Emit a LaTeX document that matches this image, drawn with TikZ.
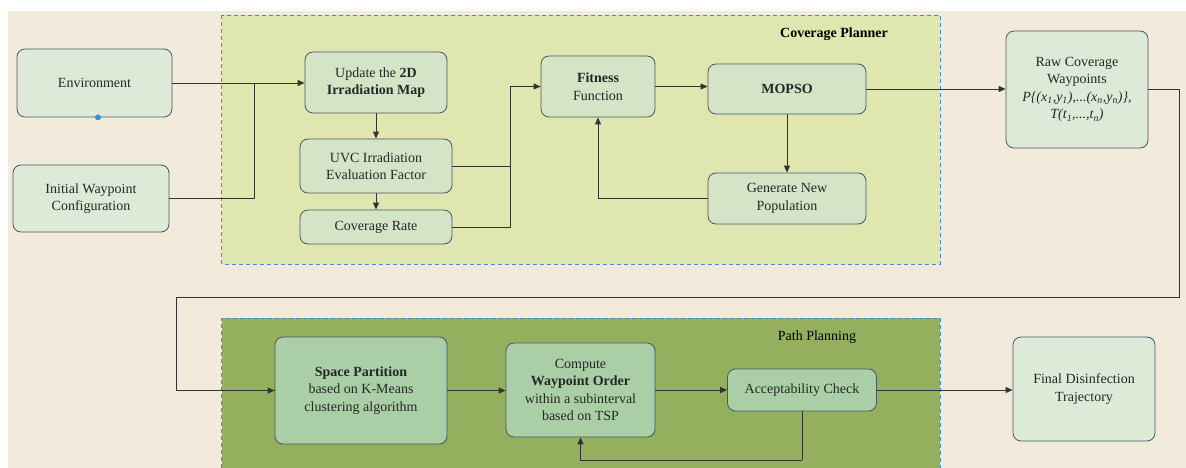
\documentclass[tikz,border=0pt]{standalone}
\usepackage{fontspec}
\setmainfont{Liberation Serif}
\newfontfamily\tnr{Liberation Serif}
\usetikzlibrary{arrows.meta}
\definecolor{bgbeige}{HTML}{F2EBDC}
\definecolor{covfill}{HTML}{E0E6AF}
\definecolor{pathfill}{HTML}{94B05E}
\definecolor{nodeA}{HTML}{DDEAD8}
\definecolor{nodeB}{HTML}{D3E5C6}
\definecolor{nodeC}{HTML}{AACFA6}
\definecolor{bordc}{HTML}{4A5566}
\definecolor{dashc}{HTML}{3D8FD1}
\definecolor{linec}{HTML}{333333}
\tikzset{
  box/.style={draw=bordc, line width=0.8pt, rounded corners=8pt, align=center,
    inner sep=2pt, font=\tnr\fontsize{14}{17.5}\selectfont, text=black!85},
  outbox/.style={box, fill=nodeA},
  covbox/.style={box, fill=nodeB},
  pathbox/.style={box, fill=nodeC},
  conn/.style={draw=linec, line width=0.9pt},
  arr/.style={conn, -{Triangle[length=7pt,width=6pt]}},
  group/.style={draw=dashc, dashed, dash pattern=on 4pt off 3pt, line width=0.8pt}
}
\begin{document}
\begin{tikzpicture}[x=1pt,y=-1pt]
\useasboundingbox (0,0) rectangle (1186,468);
\fill[white] (0,0) rectangle (1186,468);
\fill[bgbeige] (8,11) rectangle (1186,468);
% groups
\path[group, fill=covfill] (221.6,15) rectangle (940,264);
\fill[pathfill] (221.6,318) rectangle (940,468);
\draw[group] (221.6,468) -- (221.6,318) -- (940,318) -- (940,468);
\node[font=\tnr\fontsize{14}{16}\selectfont\bfseries] (covlabel) at (834,34) {Coverage Planner};
\node[font=\tnr\fontsize{14}{16}\selectfont] (pathlabel) at (817,337) {Path Planning};
% nodes
\node[outbox, minimum width=155pt, minimum height=68pt] (env) at (94.5,83) {Environment};
\node[outbox, minimum width=156pt, minimum height=67pt] (init) at (91,198.5) {Initial Waypoint\\Configuration};
\node[covbox, minimum width=142pt, minimum height=61pt] (upd) at (376,82.5) {Update the \textbf{2D}\\\textbf{Irradiation Map}};
\node[covbox, minimum width=152pt, minimum height=54pt] (uvc) at (376,166) {UVC Irradiation\\Evaluation Factor};
\node[covbox, minimum width=152pt, minimum height=34pt] (cov) at (376,227) {Coverage Rate};
\node[covbox, minimum width=114pt, minimum height=61pt] (fit) at (598,86.5) {\textbf{Fitness}\\Function};
\node[covbox, minimum width=158pt, minimum height=50pt] (mop) at (787,89) {\textbf{MOPSO}};
\node[covbox, minimum width=158pt, minimum height=51pt] (gen) at (787,198.5) {Generate New\\Population};
\node[outbox, minimum width=142pt, minimum height=117pt] (raw) at (1077,89.5) {Raw Coverage\\Waypoints\\\textit{P\{(x\textsubscript{1},y\textsubscript{1}),...(x\textsubscript{n},y\textsubscript{n})\},}\\\textit{T(t\textsubscript{1},...,t\textsubscript{n})}};
\node[pathbox, minimum width=172pt, minimum height=107pt] (spc) at (361,390.5) {\textbf{Space Partition}\\based on K-Means\\clustering algorithm};
\node[pathbox, minimum width=149pt, minimum height=94pt] (cmp) at (580.5,390) {Compute\\\textbf{Waypoint Order}\\within a subinterval\\based on TSP};
\node[pathbox, minimum width=149pt, minimum height=42pt] (acc) at (802,390) {Acceptability Check};
\node[outbox, minimum width=142pt, minimum height=104pt] (fin) at (1084,389) {Final Disinfection\\Trajectory};
\fill[dashc] (env.south) ++(3.5,0) circle (3pt);
% coordinates
\coordinate (j1) at (254.5,83);
\coordinate (j2) at (510,86.5);
\coordinate (j3) at (1179,89);
\coordinate (j4) at (1179,297);
\coordinate (j5) at (176,297);
\coordinate (j6) at (802,460);
% connectors
\draw[arr] (env.east) -- (upd.west |- env.east);
\draw[conn] (init.east) -| (j1);
\draw[arr] (upd.south) -- (uvc.north);
\draw[arr] (uvc.south) -- (cov.north);
\draw[conn] (uvc.east) -| (j2);
\draw[conn] (cov.east) -| (j2);
\draw[arr] (j2) -- (fit.west);
\draw[arr] (fit.east) -- (fit.east -| mop.west);
\draw[arr] (mop.south) -- (gen.north);
\draw[arr] (gen.west) -| (fit.south);
\draw[arr] (mop.east) -- (raw.west |- mop.east);
\draw[conn] (raw.east |- j3) -- (j3) -- (j4) -- (j5) |- (spc.west);
\draw[arr] (j5 |- spc.west) -- (spc.west);
\draw[arr] (spc.east) -- (cmp.west |- spc.east);
\draw[arr] (cmp.east |- acc.west) -- (acc.west);
\draw[arr] (acc.east) -- (fin.west |- acc.east);
\draw[conn] (acc.south) -- (j6);
\draw[arr] (j6) -| (cmp.south);
\end{tikzpicture}
\end{document}
